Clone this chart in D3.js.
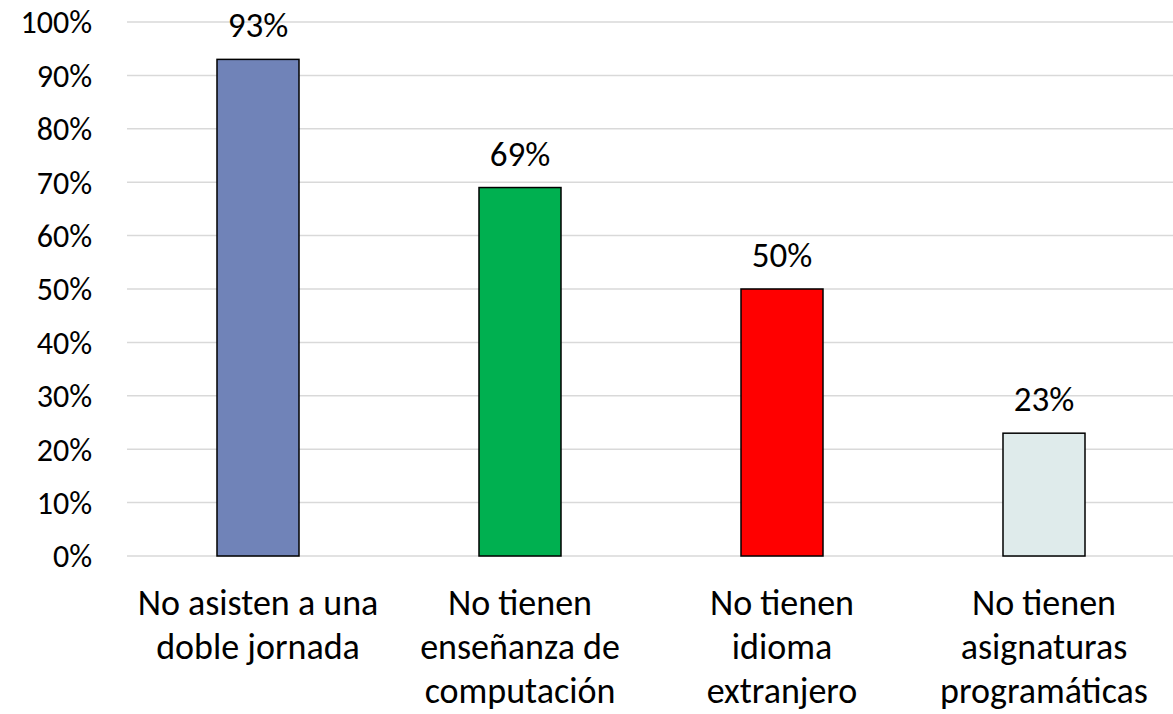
<!DOCTYPE html>
<html><head><meta charset="utf-8">
<script src="https://cdn.jsdelivr.net/npm/d3@7"></script>
<style>body{margin:0;background:#fff}svg{display:block}text{font-family:Carlito,Lato,"Liberation Sans",sans-serif;fill:#000}</style>
</head><body><svg id="c" width="1173" height="714"></svg>
<script>
const categories = [["No asisten a una","doble jornada"],["No tienen","enseñanza de","computación"],["No tienen","idioma","extranjero"],["No tienen","asignaturas","programáticas"]];
const values = [93, 69, 50, 23];
const colors = ["#7083B8", "#00B050", "#FF0000", "#DFEBEB"];
const yTicks = [0,10,20,30,40,50,60,70,80,90,100];

(function(){
const svg = d3.select("#c");
const mLeft = 127, mRight = 1175, mTop = 22, mBottom = 556;
const x = d3.scaleBand().domain(d3.range(values.length)).range([mLeft, mRight]).paddingInner(0.687).paddingOuter(0.3435);
const y = d3.scaleLinear().domain([0,100]).range([mBottom, mTop]);

const grid = svg.append("g");
grid.selectAll("line").data(yTicks).join("line")
  .attr("x1", mLeft).attr("x2", 1173).attr("y1", d=>y(d)).attr("y2", d=>y(d))
  .attr("stroke", "#D9D9D9").attr("stroke-width", 1.5);

const yAxis = svg.append("g").attr("transform", `translate(${mLeft},0)`)
  .call(d3.axisLeft(y).tickValues(yTicks).tickFormat(d=>d+"%").tickSize(0).tickPadding(35));
yAxis.select(".domain").remove();
yAxis.selectAll("text").style("font-size","32px").attr("dy","0.34em").style("font-family","Carlito,Lato,sans-serif").attr("fill","#000");

svg.append("g").selectAll("rect").data(values).join("rect")
  .attr("x", (d,i)=>x(i)).attr("width", x.bandwidth())
  .attr("y", d=>y(d)).attr("height", d=>mBottom - y(d))
  .attr("fill", (d,i)=>colors[i]).attr("stroke", "#000").attr("stroke-width", 1.5);

svg.append("g").selectAll("text").data(values).join("text")
  .attr("x", (d,i)=>x(i)+x.bandwidth()/2).attr("y", d=>y(d)-22)
  .attr("text-anchor","middle").style("font-size","35px").text(d=>d+"%");

const cl = svg.append("g");
categories.forEach((lines,i)=>{
  const t = cl.append("text").attr("text-anchor","middle").style("font-size","36px");
  lines.forEach((ln,j)=>{
    t.append("tspan").attr("x", x(i)+x.bandwidth()/2).attr("y", 615 + j*44).text(ln);
  });
});
})();
</script></body></html>
